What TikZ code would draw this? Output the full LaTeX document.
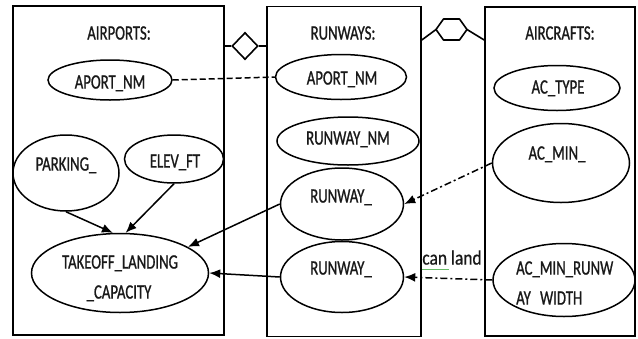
\documentclass[tikz,border=0pt]{standalone}
\usepackage{fontspec}
\setmainfont{Carlito}[FakeStretch=0.72,FakeBold=0.9]
\newfontfamily\lblfont{Carlito}[FakeStretch=0.85,FakeBold=0.6]
\usetikzlibrary{shapes.geometric,arrows.meta,calc}

\begin{document}
\begin{tikzpicture}[x=1pt,y=-1pt,
  box/.style={draw, line width=1.6pt, rectangle, inner sep=0pt},
  attr/.style={draw, ellipse, line width=1.5pt, inner sep=0pt},
  txt/.style={font=\fontsize{20.5}{24}\selectfont, text=black!90, inner sep=0pt,
              text height=13.2pt, text depth=0pt},
  link/.style={line width=1.5pt, -{Latex[length=11pt,width=9pt]}},
  dashline/.style={line width=1.5pt, dash pattern=on 6pt off 3pt},
  dashdotline/.style={line width=1.5pt, dash pattern=on 7pt off 3pt on 2pt off 3pt,
              -{Latex[length=11pt,width=9pt]}},
  rel/.style={line width=1.6pt}
]
\useasboundingbox (0,0) rectangle (638,338);

% entity boxes
\node[box, minimum width=211pt, minimum height=329pt] (apbox) at (118.5,170.5) {};
\node[box, minimum width=154pt, minimum height=330pt] (rwbox) at (344,171.5) {};
\node[box, minimum width=150pt, minimum height=329pt] (acbox) at (560,171.5) {};

% entity titles
\node[txt] (t-ap) at (119,33) {AIRPORTS:};
\node[txt] (t-rw) at (343,33) {RUNWAYS:};
\node[txt] (t-ac) at (560,33) {AIRCRAFTS:};

% AIRPORTS attributes
\node[attr, minimum width=124pt, minimum height=40pt] (ap1) at (110,80) {};
\node[txt] (t-ap1) at (110,82) {APORT\_NM};
\node[attr, minimum width=106pt, minimum height=76pt] (park) at (66,173) {};
\node[txt] (t-park) at (66,164) {PARKING\_};
\node[attr, minimum width=99pt, minimum height=48pt] (elev) at (174,159) {};
\node[txt] (t-elev) at (175,161) {ELEV\_FT};
\node[attr, minimum width=177pt, minimum height=79pt] (take) at (120,273) {};
\node[txt] (t-take1) at (120,262) {TAKEOFF\_LANDING};
\node[txt] (t-take2) at (119,292) {\_CAPACITY};

% RUNWAYS attributes
\node[attr, minimum width=131pt, minimum height=45pt] (ap2) at (341,77) {};
\node[txt] (t-ap2) at (342,78) {APORT\_NM};
\node[attr, minimum width=142pt, minimum height=48pt] (rwnm) at (348,141) {};
\node[txt] (t-rwnm) at (348,138) {RUNWAY\_NM};
\node[attr, minimum width=123pt, minimum height=72pt] (rw1) at (342,204) {};
\node[txt] (t-rw1) at (341,196) {RUNWAY\_};
\node[attr, minimum width=123pt, minimum height=71pt] (rw2) at (342,277) {};
\node[txt] (t-rw2) at (341,268) {RUNWAY\_};

% AIRCRAFTS attributes
\node[attr, minimum width=126pt, minimum height=45pt] (actype) at (557,88) {};
\node[txt] (t-actype) at (558,87) {AC\_TYPE};
\node[attr, minimum width=137pt, minimum height=79pt] (acmin) at (561,163) {};
\node[txt] (t-acmin) at (557,153) {AC\_MIN\_};
\node[attr, minimum width=142pt, minimum height=73pt] (acw) at (564,280) {};
\node[txt, anchor=west] (t-acw1) at (516,268) {AC\_MIN\_RUNW};
\node[txt, anchor=west] (t-acw2) at (516,298) {AY\hspace{0.45em}WIDTH};

% relationship symbols between the boxes
\node[draw, diamond, line width=1.6pt, aspect=1, minimum width=26pt, minimum height=27pt,
      inner sep=0pt] (dia) at (245,46) {};
\draw[rel] (dia.west) -- (dia.west -| apbox.east);
\draw[rel] (dia.east) -- (dia.east -| rwbox.west);

\coordinate (hx) at (451.5,29.5);
\draw[rel, line join=round] ($(hx)+(-15.5,0)$) -- ($(hx)+(-8,-10.5)$) -- ($(hx)+(8,-10.5)$)
  -- ($(hx)+(15.5,0)$) -- ($(hx)+(8,10.5)$) -- ($(hx)+(-8,10.5)$) -- cycle;
\coordinate (hxl) at ($(hx)+(-15.5,0)$);
\coordinate (hxr) at ($(hx)+(15.5,0)$);
\draw[rel] (hxl) -- (rwbox.east |- 0,40);
\draw[rel] (hxr) -- (acbox.west |- 0,40);

% connectors
\draw[dashline] (ap1.east) -- (ap2.west);
\draw[link] (park.south) -- (take.100);
\draw[link] (elev.south) -- (take.82);
\draw[link] (rw1.west) -- (take.21);
\draw[link] (rw2.west) -- (take.east);
\draw[dashdotline] (acmin.west) -- (rw1.east);
\draw[dashdotline] (acw.west) -- (rw2.east);

% relationship label
\node[font=\lblfont\fontsize{20.5}{24}\selectfont, text=black!90, inner sep=0pt,
      text height=13.2pt, text depth=0pt] (canland) at (452,258) {can land};
\draw[green!55!black!60, line width=0.8pt] ($(canland.south west)+(0,5)$) -- ++(27,0);
\end{tikzpicture}
\end{document}
